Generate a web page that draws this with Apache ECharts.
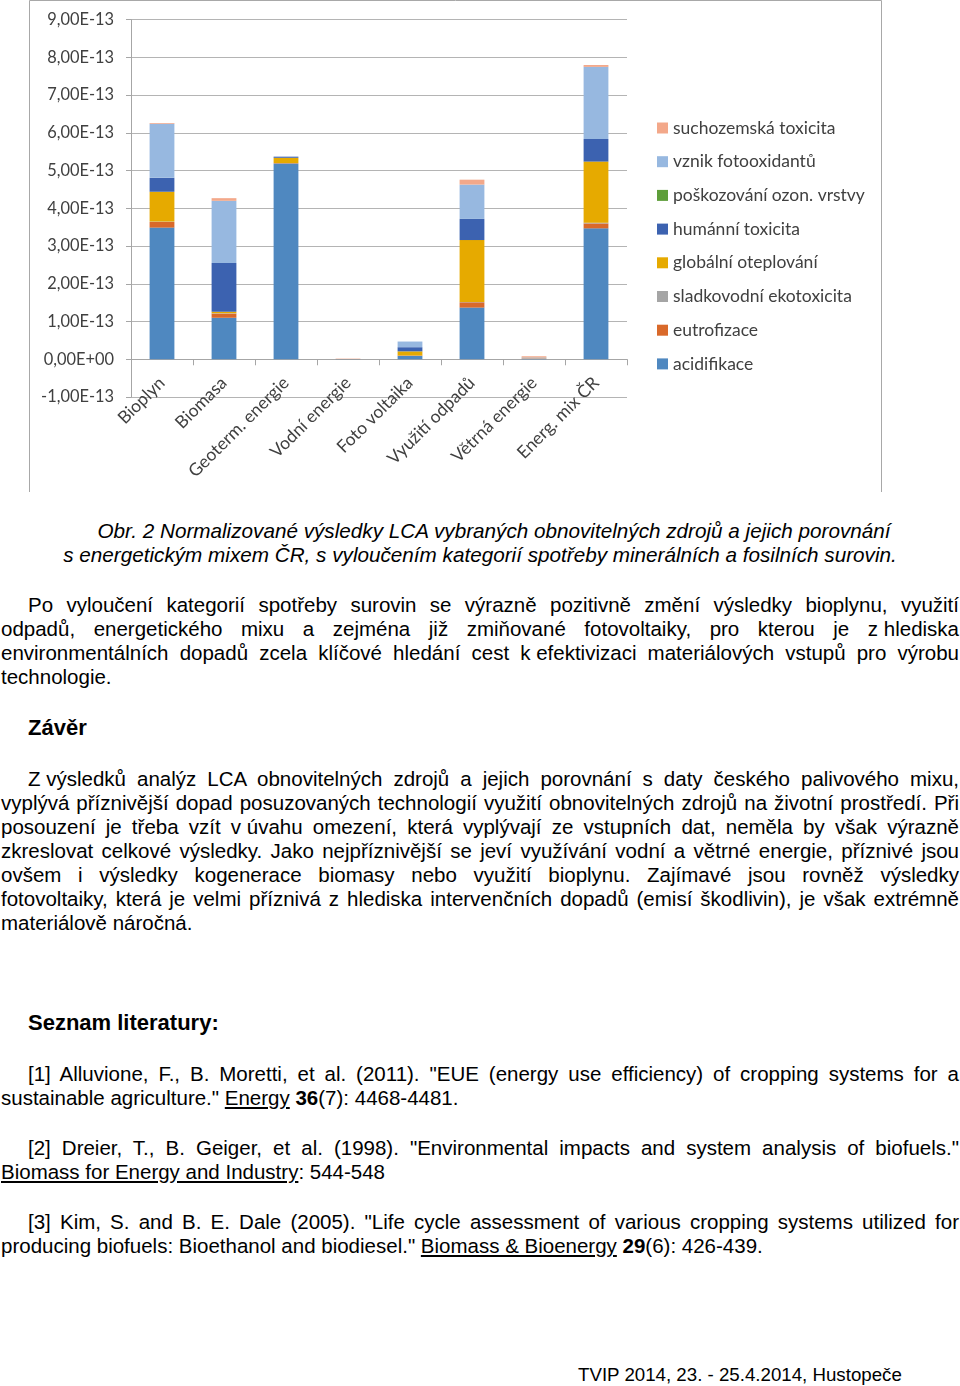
<!DOCTYPE html>
<html>
<head>
<meta charset="utf-8">
<script src="https://cdn.jsdelivr.net/npm/echarts@6/dist/echarts.min.js"></script>
<style>
  html, body { margin:0; padding:0; background:#fff; }
  body { width:960px; height:1386px; position:relative; overflow:hidden; font-family:"Liberation Sans", Arial, sans-serif; color:#000; }
  #chart { position:absolute; left:0; top:0; width:960px; height:500px; }
  .blk { position:absolute; left:1px; width:958px; font-size:20.5px; line-height:24px; }
  .j { text-align:justify; text-align-last:justify; }
  .l { text-align:left; }
  .ind { text-indent:27px; }
  .nb { display:inline-block; text-indent:0; }
  .cap { position:absolute; left:0; top:519px; width:960px; text-align:center; font-style:italic; font-size:20.7px; line-height:24px; text-indent:28px; }
  .h { position:absolute; left:28px; font-weight:bold; font-size:22px; line-height:24px; }
  .foot { position:absolute; left:578px; top:1363px; font-size:18.7px; line-height:24px; white-space:nowrap; }
  u { text-decoration:underline; }
</style>
</head>
<body>
<div id="chart"></div>

<div class="cap">Obr. 2 Normalizované výsledky LCA vybraných obnovitelných zdrojů a jejich porovnání<br>s energetickým mixem ČR, s vyloučením kategorií spotřeby minerálních a fosilních surovin.</div>

<div class="blk" style="top:593px">
  <div class="j ind">Po vyloučení kategorií spotřeby surovin se výrazně pozitivně změní výsledky bioplynu, využití</div>
  <div class="j">odpadů, energetického mixu a zejména již zmiňované fotovoltaiky, pro kterou je <span class="nb">z&nbsp;hlediska</span></div>
  <div class="j">environmentálních dopadů zcela klíčové hledání cest <span class="nb">k&nbsp;efektivizaci</span> materiálových vstupů pro výrobu</div>
  <div class="l">technologie.</div>
</div>

<div class="h" style="top:716px">Závěr</div>

<div class="blk" style="top:767px">
  <div class="j ind"><span class="nb">Z&nbsp;výsledků</span> analýz LCA obnovitelných zdrojů a jejich porovnání s daty českého palivového mixu,</div>
  <div class="j">vyplývá příznivější dopad posuzovaných technologií využití obnovitelných zdrojů na životní prostředí. Při</div>
  <div class="j">posouzení je třeba vzít <span class="nb">v&nbsp;úvahu</span> omezení, která vyplývají ze vstupních dat, neměla by však výrazně</div>
  <div class="j">zkreslovat celkové výsledky. Jako nejpříznivější se jeví využívání vodní a větrné energie, příznivé jsou</div>
  <div class="j">ovšem i výsledky kogenerace biomasy nebo využití bioplynu. Zajímavé jsou rovněž výsledky</div>
  <div class="j">fotovoltaiky, která je velmi příznivá z hlediska intervenčních dopadů (emisí škodlivin), je však extrémně</div>
  <div class="l">materiálově náročná.</div>
</div>

<div class="h" style="top:1011px">Seznam literatury:</div>

<div class="blk" style="top:1062px">
  <div class="j ind">[1] Alluvione, F., B. Moretti, et al. (2011). "EUE (energy use efficiency) of cropping systems for a</div>
  <div class="l">sustainable agriculture." <u>Energy</u> <b>36</b>(7): 4468-4481.</div>
</div>

<div class="blk" style="top:1136px">
  <div class="j ind">[2] Dreier, T., B. Geiger, et al. (1998). "Environmental impacts and system analysis of biofuels."</div>
  <div class="l"><u>Biomass for Energy and Industry</u>: 544-548</div>
</div>

<div class="blk" style="top:1210px">
  <div class="j ind">[3] Kim, S. and B. E. Dale (2005). "Life cycle assessment of various cropping systems utilized for</div>
  <div class="l">producing biofuels: Bioethanol and biodiesel." <u>Biomass &amp; Bioenergy</u> <b>29</b>(6): 426-439.</div>
</div>

<div class="foot">TVIP 2014, 23. - 25.4.2014, Hustopeče</div>

<script>
// values in units of 1E-13
var categories = ['Bioplyn', 'Biomasa', 'Geoterm. energie', 'Vodní energie', 'Foto voltaika', 'Využití odpadů', 'Větrná energie', 'Energ. mix ČR'];
var acidifikace          = [3.49, 1.10, 5.19, 0.005, 0.09, 1.37, 0.01, 3.47];
var eutrofizace          = [0.15, 0.11, 0.01, 0.002, 0.01, 0.14, 0.01, 0.13];
var sladkovodniEkotox    = [0.01, 0.01, 0.00, 0.00, 0.00, 0.01, 0.03, 0.02];
var globalniOteplovani   = [0.79, 0.04, 0.14, 0.00, 0.11, 1.64, 0.00, 1.62];
var humanniToxicita      = [0.37, 1.29, 0.03, 0.00, 0.11, 0.56, 0.00, 0.60];
var poskozovaniOzon      = [0.00, 0.00, 0.00, 0.00, 0.00, 0.00, 0.00, 0.00];
var vznikFotooxidantu    = [1.43, 1.65, 0.00, 0.00, 0.15, 0.91, 0.00, 1.91];
var suchozemskaToxicita  = [0.02, 0.07, 0.00, 0.01, 0.00, 0.13, 0.03, 0.05];
var yTicks = { min: -1, max: 9, step: 1 };

var seriesDefs = [
  ['acidifikace', acidifikace, '#4F88C0'],
  ['eutrofizace', eutrofizace, '#D9692A'],
  ['sladkovodní ekotoxicita', sladkovodniEkotox, '#A5A5A5'],
  ['globální oteplování', globalniOteplovani, '#E6AA00'],
  ['humánní toxicita', humanniToxicita, '#3C62B0'],
  ['poškozování ozon. vrstvy', poskozovaniOzon, '#5E9E3A'],
  ['vznik fotooxidantů', vznikFotooxidantu, '#97B8E0'],
  ['suchozemská toxicita', suchozemskaToxicita, '#F3A88A']
];

function fmt(v) {
  if (Math.abs(v) < 1e-9) return '0,00E+00';
  return v.toFixed(2).replace('.', ',') + 'E-13';
}

var chart = echarts.init(document.getElementById('chart'), null, { renderer: 'canvas' });
var labelColor = '#404040';
var option = {
  animation: false,
  grid: { left: 131, right: 333, top: 19.7, bottom: 103, containLabel: false, outerBoundsMode: 'none' },
  legend: {
    orient: 'vertical',
    left: 657,
    top: 119,
    padding: 0,
    itemWidth: 11,
    itemHeight: 11,
    itemGap: 15.7,
    icon: 'rect',
    textStyle: { fontFamily: 'Lato', fontSize: 17.5, color: labelColor },
    data: seriesDefs.map(function (d) { return d[0]; }).reverse()
  },
  xAxis: {
    type: 'category',
    data: categories,
    axisLine: { onZero: true, lineStyle: { color: '#A6A6A6', width: 1 } },
    axisTick: { show: true, length: 6, interval: 0, lineStyle: { color: '#A6A6A6' } },
    axisLabel: { interval: 0, rotate: 45, margin: -17, fontFamily: 'Lato', fontSize: 17.5, color: labelColor }
  },
  yAxis: {
    type: 'value',
    min: yTicks.min,
    max: yTicks.max,
    interval: yTicks.step,
    axisLine: { show: true, lineStyle: { color: '#A6A6A6' } },
    axisTick: { show: true, length: 5, lineStyle: { color: '#A6A6A6' } },
    splitLine: { show: true, lineStyle: { color: '#B4B4B4', width: 1 } },
    axisLabel: { margin: 17, fontFamily: 'Lato', fontSize: 16.4, color: labelColor, formatter: fmt }
  },
  graphic: [
    { type: 'polyline', silent: true, shape: { points: [[29.5, 492], [29.5, 0.5], [881.5, 0.5], [881.5, 492]] },
      style: { stroke: '#A8A8A8', lineWidth: 1, fill: null } }
  ],
  series: seriesDefs.map(function (d) {
    return {
      name: d[0], type: 'bar', stack: 'total', data: d[1], barWidth: '40%',
      itemStyle: { color: d[2] }
    };
  })
};
chart.setOption(option);
</script>
</body>
</html>
